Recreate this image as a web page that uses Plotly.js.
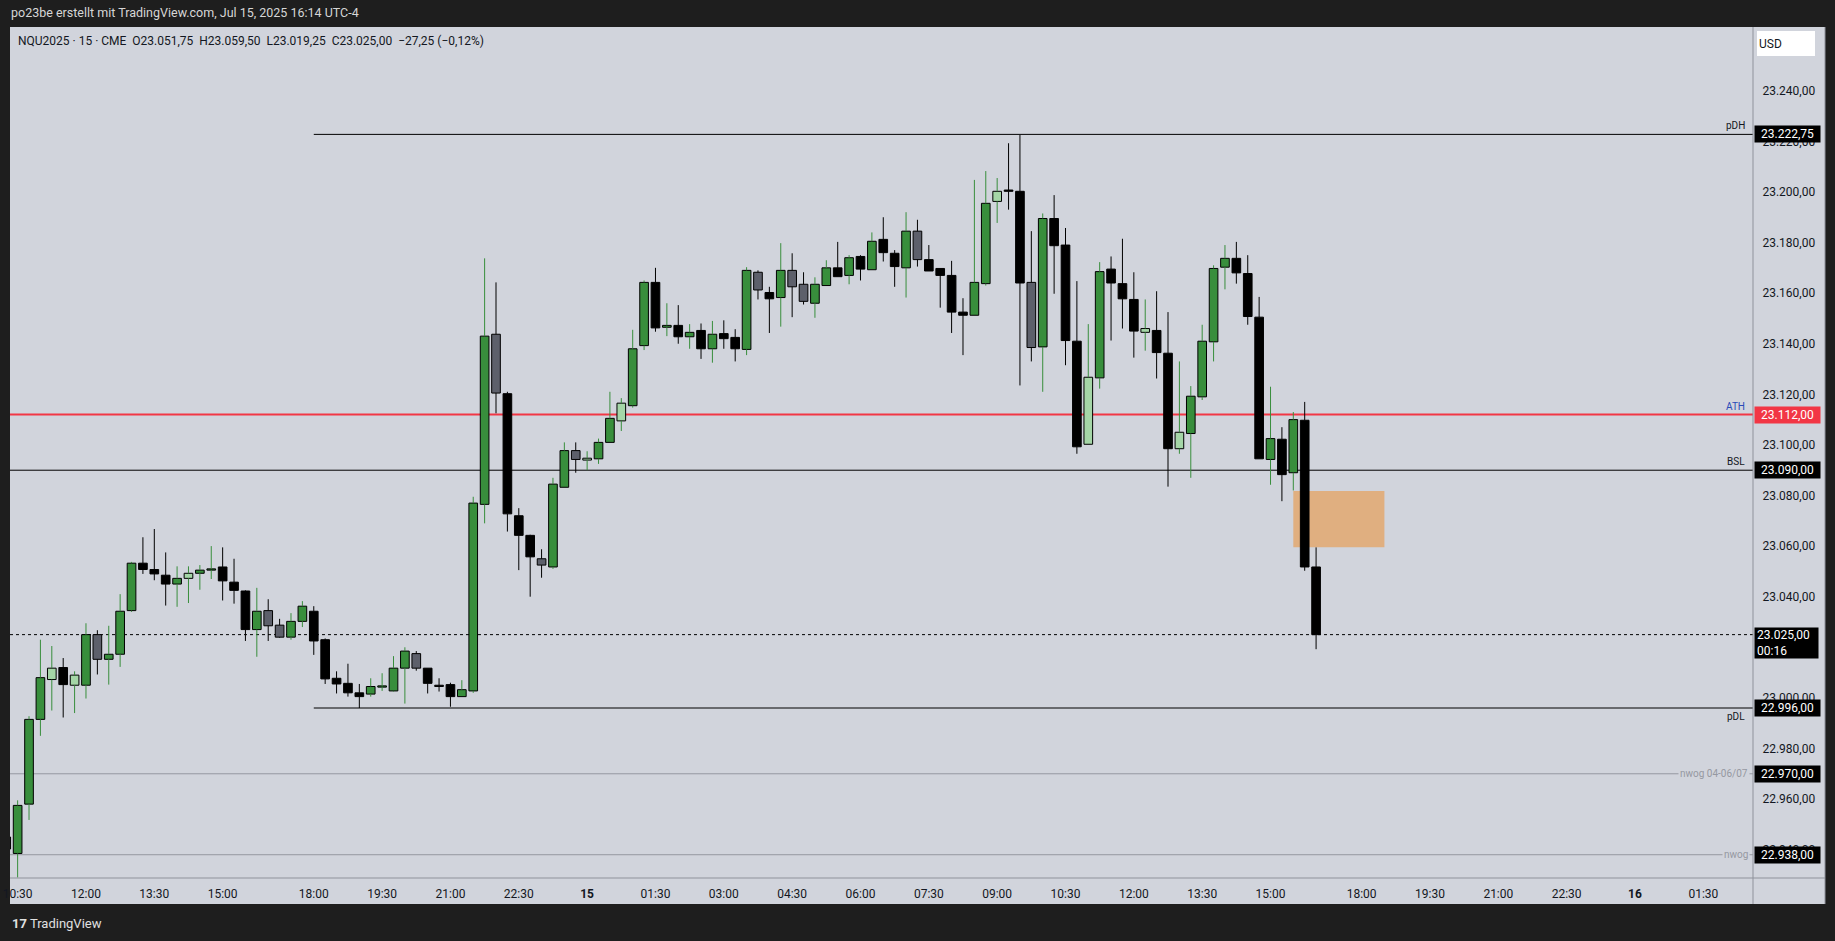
<!DOCTYPE html>
<html>
<head>
<meta charset="utf-8">
<script src="https://cdn.plot.ly/plotly-3.0.1.min.js"></script>
<style>
html,body{margin:0;padding:0;background:#1e1e1e;overflow:hidden;}
#chart{width:1835px;height:941px;}
</style>
</head>
<body>
<div id="chart"></div>
<script>
// ---------------- DATA ----------------
const times = [
"14 10:15","14 10:30","14 10:45","14 11:00","14 11:15","14 11:30","14 11:45",
"14 12:00","14 12:15","14 12:30","14 12:45","14 13:00","14 13:15","14 13:30","14 13:45",
"14 14:00","14 14:15","14 14:30","14 14:45","14 15:00","14 15:15","14 15:30","14 15:45",
"14 16:00","14 16:15","14 16:30","14 16:45",
"14 18:00","14 18:15","14 18:30","14 18:45","14 19:00","14 19:15","14 19:30","14 19:45",
"14 20:00","14 20:15","14 20:30","14 20:45","14 21:00","14 21:15","14 21:30","14 21:45",
"14 22:00","14 22:15","14 22:30","14 22:45","14 23:00","14 23:15","14 23:30","14 23:45",
"15 00:00","15 00:15","15 00:30","15 00:45","15 01:00","15 01:15","15 01:30","15 01:45",
"15 02:00","15 02:15","15 02:30","15 02:45","15 03:00","15 03:15","15 03:30","15 03:45",
"15 04:00","15 04:15","15 04:30","15 04:45","15 05:00","15 05:15","15 05:30","15 05:45",
"15 06:00","15 06:15","15 06:30","15 06:45","15 07:00","15 07:15","15 07:30","15 07:45",
"15 08:00","15 08:15","15 08:30","15 08:45","15 09:00","15 09:15","15 09:30","15 09:45",
"15 10:00","15 10:15","15 10:30","15 10:45","15 11:00","15 11:15","15 11:30","15 11:45",
"15 12:00","15 12:15","15 12:30","15 12:45","15 13:00","15 13:15","15 13:30","15 13:45",
"15 14:00","15 14:15","15 14:30","15 14:45","15 15:00","15 15:15","15 15:30","15 15:45",
"15 16:00"
];
const open = [
22945.00,22938.50,22958.00,22991.50,23007.25,23012.00,23005.00,
23005.00,23025.00,23015.25,23017.25,23034.50,23053.25,23050.75,23048.50,
23045.00,23047.25,23049.25,23050.50,23051.75,23045.75,23042.25,23027.00,
23034.50,23028.75,23024.00,23030.25,
23034.25,23023.00,23007.75,23005.75,23002.00,23001.50,23004.25,23002.75,
23011.75,23017.50,23011.75,23005.00,23005.25,23000.50,23002.75,23076.50,
23143.75,23120.25,23072.00,23064.25,23055.00,23051.75,23083.25,23097.75,
23094.00,23094.50,23101.00,23109.50,23115.50,23139.25,23164.25,23146.50,
23147.25,23142.75,23145.25,23138.00,23144.00,23142.50,23137.75,23168.25,
23160.25,23158.25,23169.00,23163.50,23156.00,23163.00,23170.00,23167.00,
23174.50,23169.25,23181.25,23175.75,23170.00,23184.50,23173.25,23169.75,
23167.00,23152.50,23151.25,23163.75,23196.25,23200.50,23200.25,23164.25,
23138.75,23189.50,23179.00,23141.00,23100.25,23126.50,23169.50,23163.75,
23157.50,23144.50,23145.25,23136.25,23098.50,23104.50,23119.00,23140.75,
23170.25,23173.75,23167.75,23150.50,23094.25,23102.25,23089.00,23109.75,
23051.75
];
const high = [
22946.50,22959.50,22992.75,23023.00,23020.50,23015.75,23010.50,
23029.50,23026.75,23028.50,23041.00,23053.75,23063.50,23066.75,23057.50,
23052.00,23052.00,23052.50,23060.00,23059.50,23055.00,23042.50,23043.50,
23039.00,23031.25,23033.50,23038.25,
23036.25,23023.50,23010.50,23013.50,23005.50,23007.75,23009.75,23016.50,
23020.00,23018.50,23011.75,23007.75,23006.00,23007.00,23079.50,23173.75,
23164.25,23121.00,23075.00,23064.50,23058.75,23087.00,23101.00,23101.00,
23097.50,23102.50,23121.00,23118.50,23145.50,23165.00,23170.00,23156.00,
23155.25,23147.75,23148.00,23149.00,23149.25,23145.75,23170.25,23169.00,
23162.50,23179.75,23175.75,23168.25,23166.25,23173.00,23180.25,23175.00,
23175.00,23184.00,23190.00,23177.00,23192.00,23189.00,23179.00,23169.75,
23172.75,23158.00,23204.75,23208.25,23205.50,23219.25,23222.50,23184.50,
23191.50,23198.75,23185.75,23164.75,23147.75,23172.25,23174.50,23181.50,
23168.25,23157.50,23160.75,23152.50,23133.00,23123.25,23147.50,23171.00,
23179.00,23180.25,23175.00,23158.50,23123.00,23107.00,23113.00,23117.00,
23059.50
];
const low = [
22938.50,22929.00,22951.75,22985.00,22995.00,22992.25,22994.00,
22999.75,23009.25,23005.25,23012.25,23034.00,23049.00,23046.50,23036.50,
23036.00,23037.50,23042.75,23047.00,23038.50,23037.25,23022.50,23016.25,
23022.50,23023.75,23023.00,23028.00,
23017.00,23005.50,23001.75,23000.50,22996.00,23000.50,23002.75,23002.50,
22997.75,23010.75,23001.75,23002.50,22996.50,23000.50,23002.00,23069.00,
23112.50,23065.75,23050.50,23040.00,23047.50,23051.00,23083.25,23089.00,
23090.00,23092.50,23101.00,23105.50,23114.75,23137.50,23144.75,23143.00,
23140.00,23138.00,23134.00,23132.50,23138.00,23133.00,23135.50,23157.50,
23144.25,23146.75,23150.50,23155.50,23150.25,23163.00,23166.50,23163.50,
23165.00,23169.25,23172.50,23162.50,23158.25,23170.50,23168.75,23154.25,
23144.25,23135.50,23151.25,23163.00,23187.75,23193.00,23123.50,23133.00,
23121.00,23159.75,23131.50,23096.50,23100.25,23122.25,23141.25,23146.00,
23134.50,23137.25,23126.25,23083.50,23096.50,23087.00,23117.75,23133.00,
23161.50,23163.75,23147.50,23094.50,23084.25,23077.75,23082.00,23050.25,
23019.25
];
const close = [
22940.25,22957.50,22991.50,23008.00,23011.75,23005.25,23009.00,
23025.00,23015.25,23017.25,23034.25,23053.25,23050.75,23049.00,23045.00,
23047.25,23049.25,23050.50,23051.00,23046.25,23042.50,23027.00,23034.25,
23028.50,23024.00,23030.25,23036.25,
23022.50,23007.50,23005.50,23002.00,23000.50,23004.50,23004.50,23011.75,
23018.50,23011.75,23005.75,23004.50,23000.50,23003.25,23077.00,23143.00,
23120.50,23072.75,23064.25,23055.75,23052.50,23084.50,23097.75,23094.25,
23094.75,23101.00,23110.50,23116.50,23138.00,23164.25,23146.25,23147.25,
23142.75,23144.50,23138.00,23143.75,23142.00,23138.00,23169.00,23161.25,
23157.75,23169.00,23162.50,23156.75,23163.50,23170.00,23166.50,23174.00,
23169.50,23180.50,23176.00,23170.50,23184.50,23173.25,23168.75,23167.00,
23152.50,23151.25,23164.25,23195.50,23200.25,23200.25,23164.00,23138.50,
23189.50,23178.75,23141.25,23099.25,23126.75,23168.50,23164.00,23157.75,
23145.00,23146.00,23136.50,23098.50,23105.00,23119.25,23141.00,23169.75,
23173.75,23168.00,23150.75,23094.50,23102.50,23088.25,23110.00,23051.75,
23025.00
];
// bar tone shown on the chart: G green, L light green, K black, S slate grey
const tone = [
"K","G","G","G","L","K","L",
"G","S","G","G","G","K","K","K",
"G","L","G","G","K","K","K","G",
"S","S","G","G",
"K","K","K","K","K","G","G","G",
"G","S","K","K","K","G","G","G",
"S","K","K","K","S","G","G","S",
"L","G","G","L","G","G","K","G",
"K","G","K","G","K","K","G","S",
"K","G","S","S","G","G","K","G",
"K","G","K","K","G","S","K","K",
"K","K","G","G","L","K","K","S",
"G","K","K","K","L","G","K","K",
"K","L","K","K","L","G","G","G",
"G","K","K","K","G","K","G","K",
"K"
];

const priceTicks = [22940,22960,22980,23000,23040,23060,23080,23100,23120,23140,23160,23180,23200,23220,23240];
const timeTicks = ["14 10:30","14 12:00","14 13:30","14 15:00","14 18:00","14 19:30","14 21:00","14 22:30",
  "15 00:00","15 01:30","15 03:00","15 04:30","15 06:00","15 07:30","15 09:00","15 10:30","15 12:00",
  "15 13:30","15 15:00","15 18:00","15 19:30","15 21:00","15 22:30","16 00:00","16 01:30"];
const timeTickText = ["10:30","12:00","13:30","15:00","18:00","19:30","21:00","22:30",
  "<b>15</b>","01:30","03:00","04:30","06:00","07:30","09:00","10:30","12:00",
  "13:30","15:00","18:00","19:30","21:00","22:30","<b>16</b>","01:30"];

const levelNames  = ["pDH","ATH","BSL","pDL","nwog 04-06/07","nwog"];
const levelPrices = [23222.75, 23112.00, 23090.00, 22996.00, 22970.00, 22938.00];
const levelStart  = ["14 18:00", null, null, "14 18:00", null, null];

const lastPrice = 23025.00;
const countdown = "00:16";
const fvgStart = "15 15:30", fvgEnd = "15 18:30";
const fvgTop = 23081.75, fvgBottom = 23059.50;

const symbolLine = "NQU2025 · 15 · CME  O23.051,75  H23.059,50  L23.019,25  C23.025,00  −27,25 (−0,12%)";
const creditLine = "po23be erstellt mit TradingView.com, Jul 15, 2025 16:14 UTC-4";

// ---------------- HELPERS ----------------
// 15-minute session slots; the 17:00-18:00 maintenance hour is skipped
function slot(t){
  const d = +t.slice(0,2), h = +t.slice(3,5), m = +t.slice(6,8);
  return (d-14)*92 + h*4 + m/15 - (h >= 18 ? 4 : 0);
}
function fmt(p){
  const s = p.toFixed(2).split(".");
  return s[0].replace(/\B(?=(\d{3})+(?!\d))/g, ".") + "," + s[1];
}
const W = 1835, H = 941, ML = 10, MR = 82, MT = 27, MB = 63;
const PW = W - ML - MR, PH = H - MT - MB;
const pxX = px => (px - ML) / PW;
const pxY = py => (H - MB - py) / PH;

const xRange = [41.33, 194.36];
const yRange = [22928.8, 23265.2];

const BODY = {G:"#388e3c", L:"#a5d6a7", K:"#000000", S:"#5d606b"};
const WICK = {G:"#388e3c", L:"#388e3c", K:"#000000", S:"#000000"};

const xs = times.map(slot);

// wick segments (above & below the body) grouped by wick colour
const wickGroups = {};
xs.forEach((x, i) => {
  const col = WICK[tone[i]];
  if (!wickGroups[col]) wickGroups[col] = {x:[], y:[]};
  const g = wickGroups[col];
  const top = Math.max(open[i], close[i]), bot = Math.min(open[i], close[i]);
  g.x.push(x, x, null, x, x, null);
  g.y.push(high[i], top, null, bot, low[i], null);
});

const traces = [];
traces.push({
  type:"bar", x: xs,
  base: xs.map((_, i) => Math.min(open[i], close[i])),
  y: xs.map((_, i) => Math.max(Math.abs(close[i] - open[i]), 0.5)),
  width: 0.76,
  marker:{color: tone.map(t => BODY[t]), line:{color:"#000000", width:1}},
  hoverinfo:"skip", showlegend:false
});
Object.keys(wickGroups).forEach(col => {
  traces.push({
    type:"scatter", mode:"lines", x: wickGroups[col].x, y: wickGroups[col].y,
    line:{color: col, width: 1}, connectgaps:false, hoverinfo:"skip", showlegend:false
  });
});

// ---------------- SHAPES ----------------
const shapes = [];
shapes.push({type:"rect", xref:"paper", yref:"paper", x0:0, x1:pxX(1825), y0:pxY(904), y1:1,
  fillcolor:"#d1d4dc", line:{width:0}, layer:"below"});
shapes.push({type:"rect", xref:"x", yref:"y", x0:slot(fvgStart), x1:slot(fvgEnd), y0:fvgBottom, y1:fvgTop,
  fillcolor:"#e0af80", line:{width:0}, layer:"below"});
const levelStyle = [
  {color:"#000000", width:1},
  {color:"#f23645", width:2},
  {color:"#000000", width:1},
  {color:"#000000", width:1},
  {color:"#9598a1", width:1},
  {color:"#9598a1", width:1}
];
levelPrices.forEach((p, i) => {
  shapes.push({type:"line", xref:"x", yref:"y",
    x0: levelStart[i] ? slot(levelStart[i]) : xRange[0], x1: xRange[1], y0:p, y1:p,
    line: levelStyle[i], layer:"below"});
});
shapes.push({type:"line", xref:"x", yref:"y", x0:xRange[0], x1:xRange[1], y0:lastPrice, y1:lastPrice,
  line:{color:"#000000", width:1, dash:"dot"}, layer:"below"});
shapes.push({type:"line", xref:"paper", yref:"paper", x0:1, x1:1, y0:pxY(904), y1:1,
  line:{color:"#8f929b", width:1}});
shapes.push({type:"line", xref:"paper", yref:"paper", x0:0, x1:pxX(1825), y0:0, y1:0,
  line:{color:"#8f929b", width:1}});
shapes.push({type:"line", xref:"paper", yref:"paper", x0:pxX(1825), x1:pxX(1825), y0:pxY(904), y1:1,
  line:{color:"#8f929b", width:1}});

// ---------------- ANNOTATIONS ----------------
const ann = [];
ann.push({xref:"paper", yref:"paper", x:pxX(9), y:pxY(13), xanchor:"left", yanchor:"middle",
  text: creditLine, showarrow:false, font:{size:12.5, color:"#d6d6d6"}});
ann.push({xref:"paper", yref:"paper", x:pxX(16), y:pxY(41), xanchor:"left", yanchor:"middle",
  text: symbolLine.replace(/  /g, "&nbsp;&nbsp;"), showarrow:false, font:{size:12, color:"#131722"}});
ann.push({xref:"paper", yref:"paper", x:pxX(10), y:pxY(923), xanchor:"left", yanchor:"middle",
  text:"<b>17</b> TradingView", showarrow:false, font:{size:13, color:"#e0e0e0"}});
ann.push({xref:"paper", yref:"paper", x:pxX(1757), y:pxY(31), xanchor:"left", yanchor:"top",
  text:"USD", showarrow:false, align:"left", width:54, height:21, borderpad:2,
  bgcolor:"#ffffff", bordercolor:"#e0e3eb", borderwidth:0, font:{size:12, color:"#131722"}});

const levelLabelColor = ["#131722","#2a4ab8","#131722","#131722","#9598a1","#9598a1"];
levelPrices.forEach((p, i) => {
  const name = levelNames[i];
  const base = {xref:"paper", yref:"y", y:p, showarrow:false, xanchor:"right",
    text:name, font:{size:10, color:levelLabelColor[i]}};
  if (i === 3) { Object.assign(base, {x:pxX(1747), yanchor:"top", yshift:-1}); }
  else if (i >= 4) { Object.assign(base, {x:pxX(1750), yanchor:"middle", bgcolor:"#d1d4dc", borderpad:1}); }
  else { Object.assign(base, {x:pxX(1747), yanchor:"bottom", yshift:1}); }
  ann.push(base);
  ann.push({xref:"paper", yref:"y", x:pxX(1754), y:p, xanchor:"left", yanchor:"middle",
    text: fmt(p), showarrow:false, align:"center", width:63, height:14, borderpad:1,
    bgcolor: i === 1 ? "#f23645" : "#000000", font:{size:12, color:"#ffffff"}});
});
ann.push({xref:"paper", yref:"y", x:pxX(1754), y:lastPrice, xanchor:"left", yanchor:"top", yshift:8,
  text: fmt(lastPrice) + "<br>" + countdown, showarrow:false, align:"left", width:59, height:26, borderpad:2,
  bgcolor:"#000000", font:{size:12, color:"#ffffff"}});

// ---------------- LAYOUT ----------------
const layout = {
  width:W, height:H,
  margin:{l:ML, r:MR, t:MT, b:MB, pad:0},
  paper_bgcolor:"#1e1e1e", plot_bgcolor:"#d1d4dc",
  font:{family:"Roboto, 'Liberation Sans', sans-serif", size:12, color:"#131722"},
  showlegend:false, barmode:"overlay", dragmode:false,
  xaxis:{range:xRange, showgrid:false, zeroline:false, showline:false,
    tickmode:"array", tickvals: timeTicks.map(slot), ticktext: timeTickText,
    ticks:"outside", ticklen:5, tickcolor:"rgba(0,0,0,0)", tickfont:{size:12, color:"#131722"},
    fixedrange:true},
  yaxis:{range:yRange, side:"right", showgrid:false, zeroline:false, showline:false,
    tickmode:"array", tickvals: priceTicks, ticktext: priceTicks.map(fmt),
    ticks:"outside", ticklen:6, tickcolor:"rgba(0,0,0,0)", tickfont:{size:12, color:"#131722"},
    fixedrange:true},
  shapes: shapes,
  annotations: ann
};

Plotly.newPlot("chart", traces, layout, {displayModeBar:false, staticPlot:true});
</script>
</body>
</html>
